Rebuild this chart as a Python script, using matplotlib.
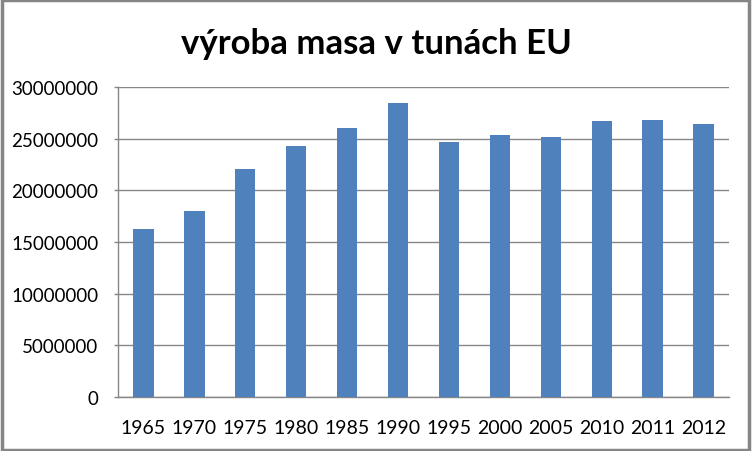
import matplotlib
matplotlib.use('Agg')
import matplotlib.pyplot as plt
from matplotlib.patches import Rectangle

YEARS = ['1965', '1970', '1975', '1980', '1985', '1990',
         '1995', '2000', '2005', '2010', '2011', '2012']
MEAT_T = [16260000, 18000000, 22070000, 24300000, 26040000, 28460000,
          24680000, 25360000, 25170000, 26720000, 26800000, 26430000]
YTICKS = [0, 5000000, 10000000, 15000000, 20000000, 25000000, 30000000]

BAR = '#4F81BD'
GRID = '#868686'

plt.rcParams['font.family'] = ['Lato', 'DejaVu Sans']

fig = plt.figure(figsize=(7.52, 4.52), dpi=100)
ax = fig.add_axes([118 / 752, 1 - 398 / 452, 611 / 752, 310 / 452])

x = range(len(YEARS))
ax.bar(x, MEAT_T, width=0.4, color=BAR, zorder=3)

ax.set_xlim(-0.5, len(YEARS) - 0.5)
ax.set_ylim(0, 30000000)
ax.set_yticks(YTICKS)
ax.set_yticklabels([str(v) for v in YTICKS])
ax.set_xticks(list(x))
ax.set_xticklabels(YEARS)

ax.grid(axis='y', color=GRID, linewidth=1, zorder=0)
ax.set_axisbelow(True)
for side in ('top', 'right'):
    ax.spines[side].set_visible(False)
for side in ('left', 'bottom'):
    ax.spines[side].set_color(GRID)
    ax.spines[side].set_linewidth(1)

ax.tick_params(axis='y', length=3, width=1, color=GRID, pad=11,
               labelsize=13.5, labelcolor='black')
ax.tick_params(axis='x', length=0, pad=16, labelsize=14, labelcolor='black')

fig.text(0.5, 1 - 44 / 452, 'výroba masa v tunách EU', ha='center', va='center',
         fontsize=25, fontweight='bold')

# outer chart border
fig.patches.append(Rectangle((0.002, 0.003), 0.994, 0.994, transform=fig.transFigure,
                             fill=False, edgecolor=GRID, linewidth=2.5))

fig.savefig('out.png', dpi=100)
